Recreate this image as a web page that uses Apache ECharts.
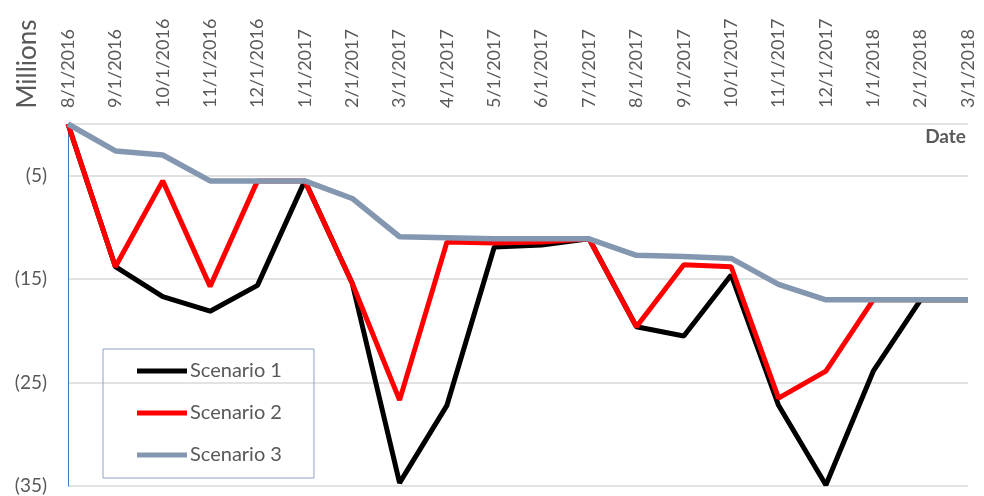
<!DOCTYPE html>
<html>
<head>
<meta charset="utf-8">
<script src="https://cdn.jsdelivr.net/npm/echarts@6/dist/echarts.min.js"></script>
<style>
  html, body { margin: 0; padding: 0; background: #fff; }
  #chart { width: 984px; height: 496px; }
</style>
</head>
<body>
<div id="chart"></div>
<script>
var dates = ["8/1/2016", "9/1/2016", "10/1/2016", "11/1/2016", "12/1/2016", "1/1/2017",
  "2/1/2017", "3/1/2017", "4/1/2017", "5/1/2017", "6/1/2017", "7/1/2017", "8/1/2017",
  "9/1/2017", "10/1/2017", "11/1/2017", "12/1/2017", "1/1/2018", "2/1/2018", "3/1/2018"];
var scenario1 = [0, -13.8, -16.7, -18.1, -15.6, -5.5, -15.4, -34.7, -27.2, -11.9,
  -11.7, -11.1, -19.6, -20.5, -14.6, -27.2, -34.9, -23.9, -17.0, -17.0];
var scenario2 = [0, -13.8, -5.5, -15.7, -5.5, -5.5, -15.4, -26.7, -11.4, -11.5,
  -11.4, -11.1, -19.6, -13.6, -13.8, -26.5, -23.9, -17.0, -17.0, -17.0];
var scenario3 = [0, -2.6, -3.0, -5.5, -5.5, -5.5, -7.2, -10.9, -11.0, -11.1,
  -11.1, -11.1, -12.7, -12.8, -13.0, -15.5, -17.0, -17.0, -17.0, -17.0];

var font = "Lato, 'Open Sans', sans-serif";
var textColor = "#595959";

var myChart = echarts.init(document.getElementById("chart"));

function makeLine(name, data, color, width) {
  return {
    name: name,
    type: "line",
    data: data,
    symbol: "none",
    smooth: false,
    lineStyle: { color: color, width: width },
    itemStyle: { color: color },
    emphasis: { disabled: true }
  };
}

var option = {
  animation: false,
  textStyle: { fontFamily: font },
  grid: { left: 68, right: 16, top: 124, bottom: 10 },
  legend: {
    orient: "vertical",
    left: 103,
    top: 349,
    padding: [12, 32, 13, 34],
    itemGap: 22,
    itemWidth: 50,
    itemHeight: 5,
    icon: "rect",
    borderColor: "#8FA2C1",
    borderWidth: 1,
    textStyle: { fontFamily: font, fontSize: 20, color: textColor, padding: [0, 0, 0, -2] },
    data: ["Scenario 1", "Scenario 2", "Scenario 3"]
  },
  graphic: [
    {
      type: "text",
      x: 28,
      y: 64,
      rotation: Math.PI / 2,
      style: { text: "Millions", font: "26px " + font, fill: textColor, textAlign: "center", textVerticalAlign: "middle" }
    },
    {
      type: "text",
      right: 18,
      top: 127,
      style: { text: "Date", font: "bold 19px " + font, fill: textColor }
    }
  ],
  xAxis: {
    type: "category",
    position: "top",
    boundaryGap: false,
    data: dates,
    axisLine: { show: false },
    axisTick: { show: false },
    axisLabel: { rotate: 90, margin: 16, fontSize: 18, color: textColor, fontFamily: font, interval: 0 }
  },
  yAxis: {
    type: "value",
    min: -35,
    max: 0,
    interval: 10,
    axisLine: { show: true, lineStyle: { color: "#4472C4", width: 1 } },
    axisTick: { show: false },
    axisLabel: {
      fontSize: 19,
      color: textColor,
      fontFamily: font,
      margin: 21,
      formatter: function (v) {
        return v === 0 ? "" : "(" + (-v) + ")";
      }
    },
    splitLine: { show: true, lineStyle: { color: "#D9D9D9", width: 1.5 } }
  },
  series: [
    makeLine("Scenario 1", scenario1, "#000000", 5),
    makeLine("Scenario 2", scenario2, "#FF0000", 5),
    makeLine("Scenario 3", scenario3, "#8497B0", 5.5)
  ]
};

myChart.setOption(option);
</script>
</body>
</html>
